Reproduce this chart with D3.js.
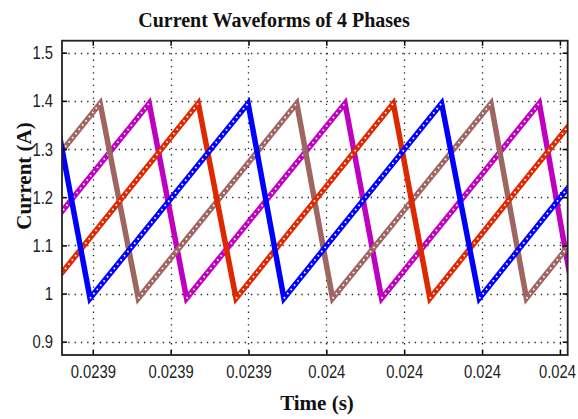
<!DOCTYPE html>
<html>
<head>
<meta charset="utf-8">
<script src="https://cdn.jsdelivr.net/npm/d3@7/dist/d3.min.js"></script>
<style>
  html, body { margin: 0; padding: 0; background: #fff; }
  svg { display: block; }
</style>
</head>
<body>
<svg id="chart" width="578" height="419"></svg>
<script>
// ---- Data ----
const chartTitle = "Current Waveforms of 4 Phases";
const xLabel = "Time (s)";
const yLabel = "Current (A)";

const xTickValues = [0.02390, 0.02392, 0.02394, 0.02396, 0.02398, 0.02400, 0.02402];
const xTickLabels = ["0.0239", "0.0239", "0.0239", "0.024", "0.024", "0.024", "0.024"];
const yTickValues = [0.9, 1.0, 1.1, 1.2, 1.3, 1.4, 1.5];
const yTickLabels = ["0.9", "1", "1.1", "1.2", "1.3", "1.4", "1.5"];

// Phase currents: vertex times (s) and currents (A)
const magentaTime    = [0.0238741, 0.0239145, 0.0239241, 0.0239648, 0.0239742, 0.0240147, 0.0240236];
const magentaCurrent = [0.99, 1.395, 0.99, 1.395, 0.99, 1.395, 0.99];

const brownTime    = [0.0238617, 0.0239019, 0.0239117, 0.0239524, 0.0239616, 0.0240023, 0.0240114, 0.0240517];
const brownCurrent = [0.99, 1.395, 0.99, 1.395, 0.99, 1.395, 0.99, 1.395];

const redTime    = [0.0238772, 0.0238868, 0.0239271, 0.0239368, 0.0239772, 0.0239866, 0.0240269];
const redCurrent = [1.395, 0.99, 1.395, 0.99, 1.395, 0.99, 1.395];

const blueTime    = [0.0238899, 0.0238993, 0.0239399, 0.0239491, 0.0239896, 0.0239993, 0.0240395];
const blueCurrent = [1.395, 0.99, 1.395, 0.99, 1.395, 0.99, 1.395];

const seriesTimes    = [magentaTime, brownTime, redTime, blueTime];
const seriesCurrents = [magentaCurrent, brownCurrent, redCurrent, blueCurrent];
const seriesColors   = ["#c000c0", "#9e6561", "#e02800", "#0000ff"];

// ---- Layout ----
const svg = d3.select("#chart");
const plot = { left: 62, top: 40.7, right: 567.7, bottom: 355 };

const x = d3.scaleLinear().domain([0.0238921, 0.0240220]).range([plot.left, plot.right]);
const y = d3.scaleLinear().domain([0.8724, 1.5249]).range([plot.bottom, plot.top]);

svg.append("rect").attr("x", 0).attr("y", 0).attr("width", 578).attr("height", 419).attr("fill", "#fff");

svg.append("defs").append("clipPath").attr("id", "clip")
  .append("rect")
  .attr("x", plot.left).attr("y", plot.top)
  .attr("width", plot.right - plot.left).attr("height", plot.bottom - plot.top);

// Grid (dotted)
const grid = svg.append("g").attr("class", "grid");
grid.selectAll("line.vx").data(xTickValues).join("line")
  .attr("x1", d => Math.round(x(d)) + 0.5).attr("x2", d => Math.round(x(d)) + 0.5)
  .attr("y1", plot.top).attr("y2", plot.bottom)
  .attr("stroke", "#222").attr("stroke-width", 1.3).attr("stroke-dasharray", "1.3,5");
grid.selectAll("line.hy").data(yTickValues).join("line")
  .attr("y1", d => Math.round(y(d)) + 0.5).attr("y2", d => Math.round(y(d)) + 0.5)
  .attr("x1", plot.left).attr("x2", plot.right)
  .attr("stroke", "#222").attr("stroke-width", 1.3).attr("stroke-dasharray", "1.3,5");

// Series
const lines = svg.append("g").attr("clip-path", "url(#clip)");
const lineGen = d3.line().x(d => x(d[0])).y(d => y(d[1]));

seriesTimes.forEach((times, s) => {
  const pts = times.map((t, i) => [t, seriesCurrents[s][i]]);
  lines.append("path")
    .attr("d", lineGen(pts))
    .attr("fill", "none")
    .attr("stroke", seriesColors[s])
    .attr("stroke-width", 5.5)
    .attr("stroke-linejoin", "miter");
  // sample-marker look on the rising ramps
  for (let i = 0; i < pts.length - 1; i++) {
    if (pts[i + 1][1] > pts[i][1]) {
      lines.append("path")
        .attr("d", lineGen([pts[i], pts[i + 1]]))
        .attr("fill", "none")
        .attr("stroke", "#fff")
        .attr("stroke-width", 1.8)
        .attr("stroke-dasharray", "1.6,3.8");
    }
  }
});

// Axes (box with inward ticks)
const tickFont = "'Liberation Sans', Arial, sans-serif";
const squeeze = 0.78;

const xAxisB = d3.axisBottom(x).tickValues(xTickValues).tickSize(-5).tickPadding(10)
  .tickFormat((d, i) => xTickLabels[i]);
const gxb = svg.append("g").attr("transform", `translate(0,${plot.bottom})`).call(xAxisB);
const xAxisT = d3.axisTop(x).tickValues(xTickValues).tickSize(-5).tickFormat("");
const gxt = svg.append("g").attr("transform", `translate(0,${plot.top})`).call(xAxisT);

const yAxisL = d3.axisLeft(y).tickValues(yTickValues).tickSize(-5).tickPadding(9)
  .tickFormat((d, i) => yTickLabels[i]);
const gyl = svg.append("g").attr("transform", `translate(${plot.left},0)`).call(yAxisL);
const yAxisR = d3.axisRight(y).tickValues(yTickValues).tickSize(-5).tickFormat("");
const gyr = svg.append("g").attr("transform", `translate(${plot.right},0)`).call(yAxisR);

[gxb, gxt, gyl, gyr].forEach(g => {
  g.select(".domain").remove();
  g.selectAll(".tick line").attr("stroke", "#000").attr("stroke-width", 1.5);
  g.selectAll("text").attr("fill", "#222").style("font-family", tickFont).style("font-size", "19px");
});
// condensed look of the tick labels (horizontal squeeze about the anchor point)
gxb.selectAll(".tick text").attr("transform", `scale(${squeeze},1)`);
gxb.selectAll(".tick text").filter((d, i, n) => i === n.length - 1).attr("x", -3 / squeeze);
gyl.selectAll(".tick text").each(function () {
  const x0 = +d3.select(this).attr("x");
  d3.select(this).attr("x", x0 / squeeze).attr("transform", `scale(${squeeze},1)`);
});

// Frame
svg.append("rect")
  .attr("x", plot.left).attr("y", plot.top)
  .attr("width", plot.right - plot.left).attr("height", plot.bottom - plot.top)
  .attr("fill", "none").attr("stroke", "#222").attr("stroke-width", 1.8);

// Titles
const serif = "'Liberation Serif', 'Times New Roman', serif";
svg.append("text").attr("x", 274).attr("y", 27).attr("text-anchor", "middle")
  .style("font-family", serif).style("font-weight", "bold").style("font-size", "20px")
  .attr("fill", "#111").text(chartTitle);

svg.append("text").attr("x", 317).attr("y", 410).attr("text-anchor", "middle")
  .style("font-family", serif).style("font-weight", "bold").style("font-size", "21px")
  .attr("fill", "#111").text(xLabel);

svg.append("text").attr("transform", "translate(31,176) rotate(-90)").attr("text-anchor", "middle")
  .style("font-family", serif).style("font-weight", "bold").style("font-size", "21px")
  .attr("fill", "#111").text(yLabel);
</script>
</body>
</html>
